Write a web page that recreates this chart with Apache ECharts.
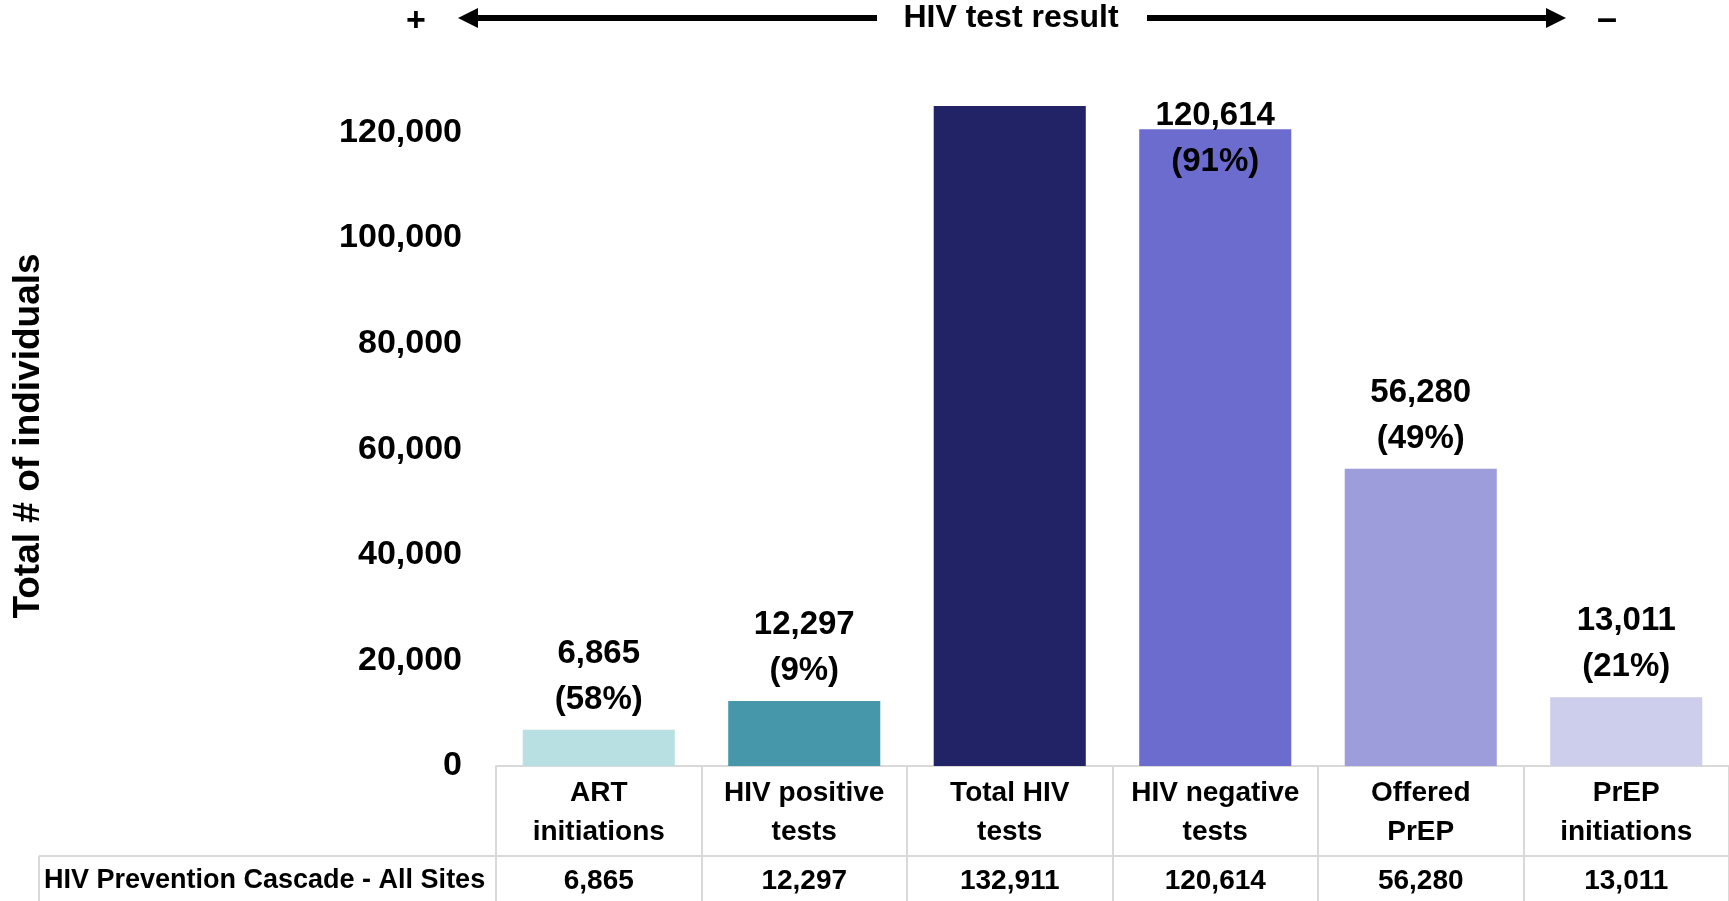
<!DOCTYPE html>
<html>
<head>
<meta charset="utf-8">
<script src="https://cdn.jsdelivr.net/npm/echarts@6/dist/echarts.min.js"></script>
<style>
  html, body { margin: 0; padding: 0; background: #fff; }
  #EchartMain { width: 1729px; height: 901px; }
</style>
</head>
<body>
<div id="EchartMain"></div>
<script>
// 数据
const categories = ["ART\ninitiations", "HIV positive\ntests", "Total HIV\ntests", "HIV negative\ntests", "Offered\nPrEP", "PrEP\ninitiations"];
const values = [6865, 12297, 132911, 120614, 56280, 13011];
const percents = ["58%", "9%", null, "91%", "49%", "21%"];
const barColors = ["#B8E0E3", "#4797AA", "#222266", "#6C6BCE", "#9E9DDC", "#CDCDEC"];
const rowTitle = "HIV Prevention Cascade - All Sites";

const FONT = "Liberation Sans, Arial, sans-serif";
const GREY = "#D9D9D9";

const fmt = (v) => v.toLocaleString("en-US");

const seriesData = values.map((v, i) => {
  const item = { value: v, itemStyle: { color: barColors[i] } };
  if (percents[i] === null) {
    item.label = { show: false };
  } else if (i === 3) {
    // 标签放不下，往下移到柱子里
    item.label = { offset: [0, 63] };
  }
  return item;
});

const option = {
  animation: false,
  grid: {
    left: 496,
    right: 0,
    top: 106,
    bottom: 135,
  },
  xAxis: [
    {
      type: "category",
      data: categories,
      axisLine: { lineStyle: { color: GREY, width: 2 } },
      axisTick: {
        show: true,
        interval: 0,
        length: 135,
        lineStyle: { color: GREY, width: 2 },
      },
      axisLabel: {
        interval: 0,
        margin: 8,
        color: "#000",
        fontFamily: FONT,
        fontWeight: "bold",
        fontSize: 28,
        lineHeight: 39,
      },
    },
    {
      type: "category",
      data: categories,
      position: "bottom",
      offset: 96,
      axisLine: { show: false },
      axisTick: { show: false },
      axisLabel: {
        interval: 0,
        margin: 0,
        color: "#000",
        fontFamily: FONT,
        fontWeight: "bold",
        fontSize: 28,
        lineHeight: 38,
        formatter: (val, idx) => fmt(values[idx]),
      },
    },
  ],
  yAxis: {
    type: "value",
    min: 0,
    max: 125000,
    interval: 20000,
    name: "Total # of individuals",
    nameLocation: "middle",
    nameGap: 449,
    nameRotate: 90,
    nameTextStyle: {
      color: "#000",
      fontFamily: FONT,
      fontWeight: "bold",
      fontSize: 37,
    },
    axisLine: { show: false },
    axisTick: { show: false },
    splitLine: { show: false },
    axisLabel: {
      showMaxLabel: false,
      margin: 34,
      color: "#000",
      fontFamily: FONT,
      fontWeight: "bold",
      fontSize: 34,
      formatter: (v) => fmt(v),
    },
  },
  series: [
    {
      type: "bar",
      xAxisIndex: 0,
      barWidth: "74%",
      clip: true,
      data: seriesData,
      label: {
        show: true,
        position: "top",
        distance: 7,
        color: "#000",
        fontFamily: FONT,
        fontWeight: "bold",
        fontSize: 33,
        lineHeight: 46,
        formatter: (p) => fmt(p.value) + "\n(" + percents[p.dataIndex] + ")",
      },
    },
  ],
  graphic: [
    // 表格线
    { type: "line", shape: { x1: 39, y1: 856, x2: 1729, y2: 856 }, style: { stroke: GREY, lineWidth: 2 } },
    { type: "line", shape: { x1: 39, y1: 856, x2: 39, y2: 901 }, style: { stroke: GREY, lineWidth: 2 } },
    {
      type: "text",
      left: 44,
      top: 862,
      style: { text: rowTitle, fill: "#000", font: "bold 27px " + FONT, lineHeight: 38 },
    },
    // 顶部箭头
    { type: "text", x: 416, y: 22, style: { text: "+", fill: "#000", font: "bold 34px " + FONT, align: "center", verticalAlign: "middle" } },
    { type: "text", x: 1011, y: 18, style: { text: "HIV test result", fill: "#000", font: "bold 32px " + FONT, align: "center", verticalAlign: "middle" } },
    { type: "text", x: 1607, y: 20, style: { text: "\u2013", fill: "#000", font: "bold 36px " + FONT, align: "center", verticalAlign: "middle" } },
    { type: "line", shape: { x1: 470, y1: 18, x2: 877, y2: 18 }, style: { stroke: "#000", lineWidth: 6 } },
    { type: "polygon", shape: { points: [[458, 18], [478, 8], [478, 28]] }, style: { fill: "#000" } },
    { type: "line", shape: { x1: 1147, y1: 18, x2: 1554, y2: 18 }, style: { stroke: "#000", lineWidth: 6 } },
    { type: "polygon", shape: { points: [[1566, 18], [1546, 8], [1546, 28]] }, style: { fill: "#000" } },
  ],
};

const chartDom = document.getElementById("EchartMain");
const myChart = echarts.init(chartDom);
myChart.setOption(option);
window.addEventListener("resize", () => {
  myChart.resize();
});
</script>
</body>
</html>
